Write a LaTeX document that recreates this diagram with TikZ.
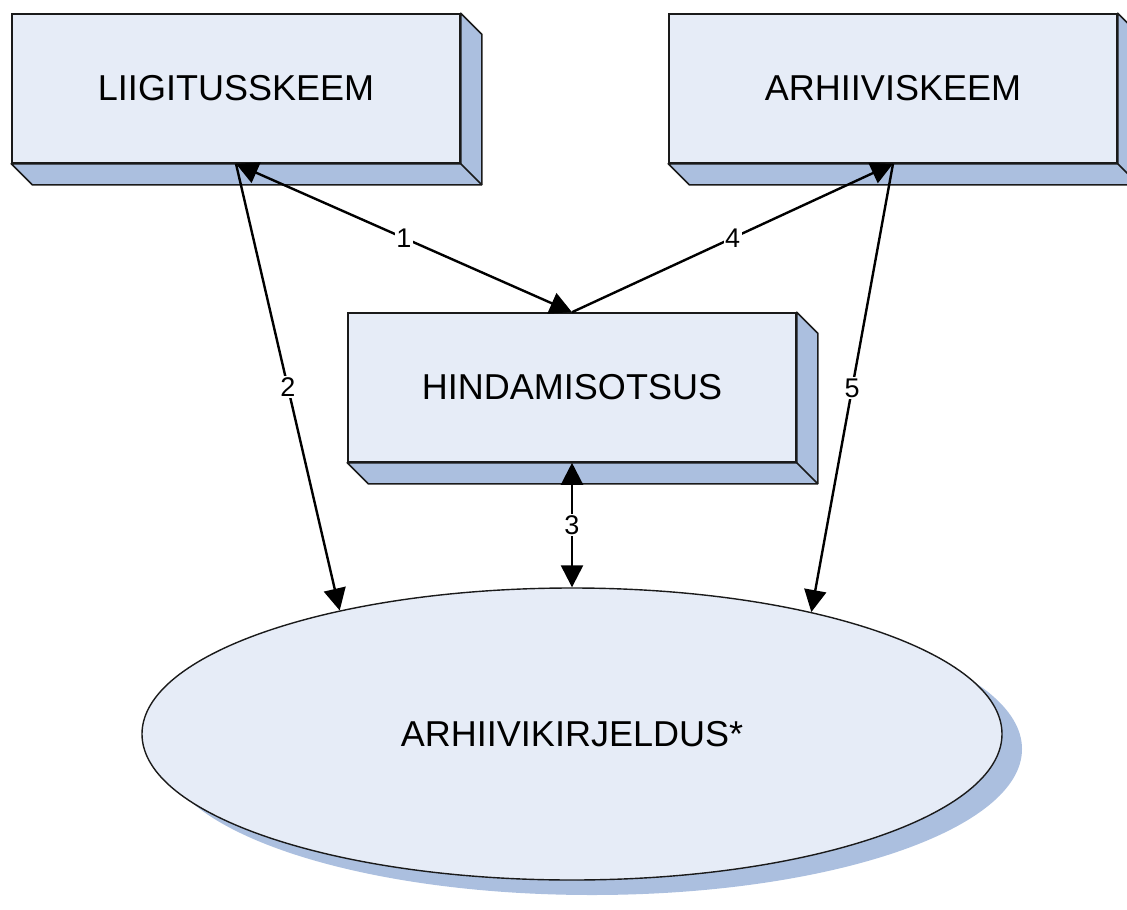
\documentclass[tikz,border=0pt]{standalone}
\usepackage{fontspec}
\setmainfont{Liberation Sans}
\usetikzlibrary{arrows.meta,shapes.geometric,shadows}

\definecolor{esipind}{HTML}{E6ECF7}
\definecolor{kylgpind}{HTML}{ABBFDF}
\definecolor{joon}{HTML}{1A1A1A}

% 3D side of a box
\newcommand{\kylg}[1]{%
  \filldraw[kylg] (#1.north east) -- ++(21,21) -- ([shift={(21,21)}]#1.south east)
    -- ([shift={(21,21)}]#1.south west) -- (#1.south west) -- (#1.south east) -- cycle;
  \draw[kylg] (#1.south east) -- ++(21,21);}

\begin{document}
\begin{tikzpicture}[x=1pt,y=-1pt,
  skeem/.style={draw=joon,line width=1.6pt,fill=esipind,minimum width=448pt,
    minimum height=149pt,inner sep=0pt,font=\fontsize{36}{40}\selectfont},
  kylg/.style={draw=joon,line width=1.6pt,fill=kylgpind,line join=round},
  nool/.style={line width=2.4pt,-{Triangle[length=22pt,width=22pt]}},
  kahenool/.style={line width=2.4pt,{Triangle[length=22pt,width=22pt]}-{Triangle[length=22pt,width=22pt]}},
  silt/.style={fill=white,inner sep=1.5pt,font=\fontsize{27}{30}\selectfont}]
\useasboundingbox (0,0) rectangle (1127,910);

% schemes
\node[skeem] (liig) at (236,88.5) {LIIGITUSSKEEM};
\node[skeem] (arh) at (893,88.5) {ARHIIVISKEEM};
\node[skeem] (hind) at (572,387.5) {HINDAMISOTSUS};
\kylg{liig}
\kylg{arh}
\kylg{hind}

% description
\node[ellipse,draw=joon,line width=1.4pt,fill=esipind,minimum width=860pt,
  minimum height=292pt,inner sep=0pt,font=\fontsize{36}{40}\selectfont,
  drop shadow={shadow xshift=20pt,shadow yshift=-15pt,fill=kylgpind,opacity=1}]
  (kirj) at (572,734) {ARHIIVIKIRJELDUS*};

% connections
\draw[kahenool] (liig.south) -- node[silt,midway] {1} (hind.north);
\draw[nool] (liig.south) -- node[silt,midway] {2} (kirj.152);
\draw[kahenool] (hind.south) -- node[silt,midway] {3} (kirj.north);
\draw[nool] (hind.north) -- node[silt,midway] {4} (arh.south);
\draw[nool] (arh.south) -- node[silt,midway] {5} (kirj.27);
\end{tikzpicture}
\end{document}
